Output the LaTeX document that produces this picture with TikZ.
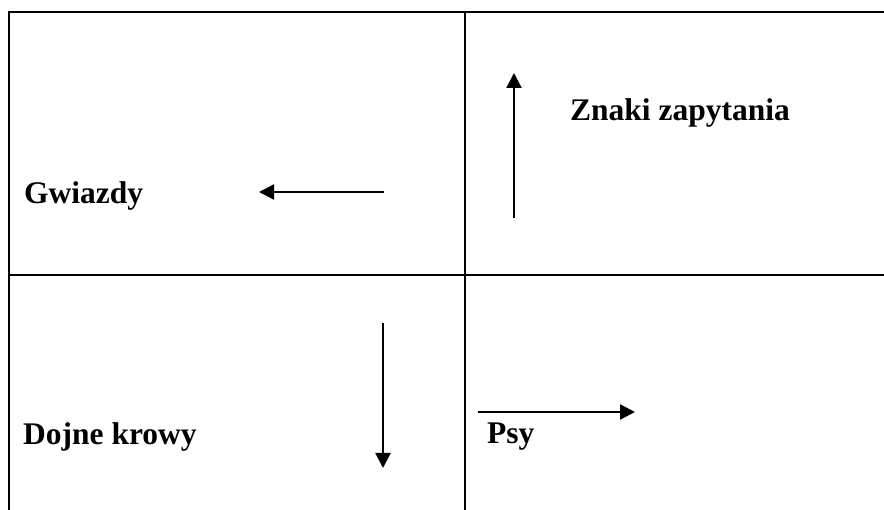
\documentclass[tikz,border=0pt]{standalone}
\usepackage{fontspec}
\setmainfont{Liberation Serif}
\usetikzlibrary{arrows.meta}
\begin{document}
\begin{tikzpicture}[x=1pt,y=-1pt,
  rule/.style={line width=2.2pt},
  flow/.style={line width=2.2pt,-{Triangle[length=15pt,width=15pt]}},
  label/.style={anchor=base west,inner sep=0pt,font=\fontsize{31.5}{38}\selectfont\bfseries}]
\useasboundingbox (0,0) rectangle (884,510);
% grid of the 2x2 table
\draw[rule] (9,510) -- (9,12) -- (884,12);
\draw[rule] (465,12) -- (465,510);
\draw[rule] (9,275) -- (884,275);
% quadrant labels
\node[label] (gw) at (24,204) {Gwiazdy};
\node[label] (zn) at (570,121) {Znaki zapytania};
\node[label] (dk) at (23,445) {Dojne krowy};
\node[label] (ps) at (487,444) {Psy};
% arrow end points
\coordinate (a1s) at (384,192); \coordinate (a1e) at (259,192);
\coordinate (a2s) at (514,218); \coordinate (a2e) at (514,73);
\coordinate (a3s) at (383,323); \coordinate (a3e) at (383,468);
\coordinate (a4s) at (478,412); \coordinate (a4e) at (635,412);
\draw[flow] (a1s) -- (a1e);
\draw[flow] (a2s) -- (a2e);
\draw[flow] (a3s) -- (a3e);
\draw[flow] (a4s) -- (a4e);
\end{tikzpicture}
\end{document}
